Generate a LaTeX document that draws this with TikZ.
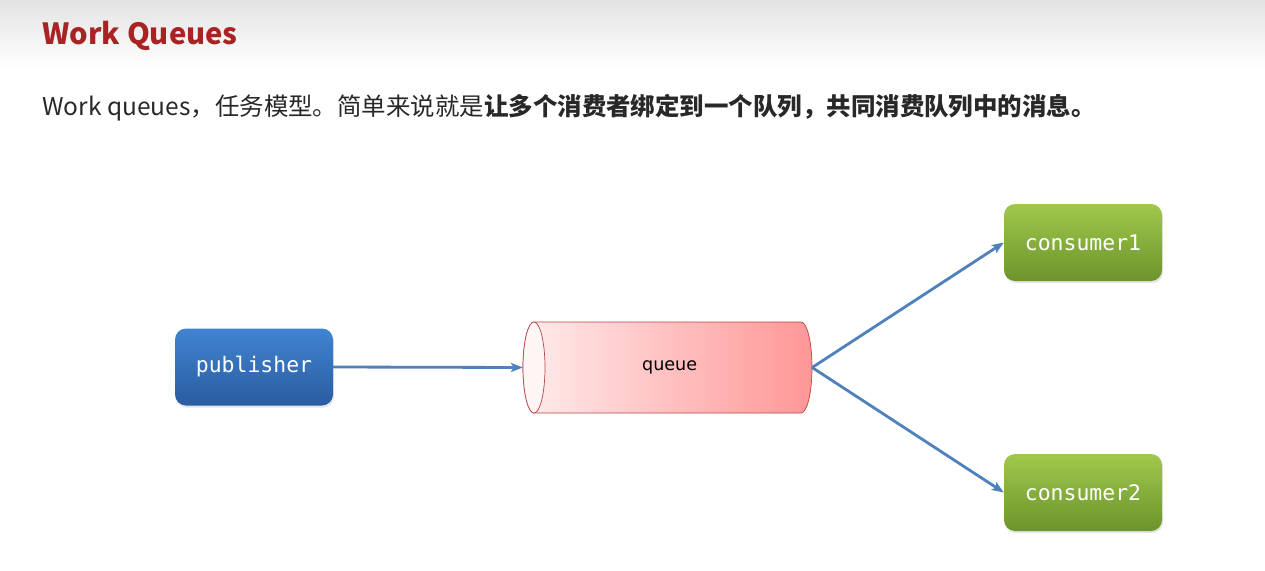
\documentclass[tikz,border=0pt]{standalone}
\usepackage{fontspec}
\setmainfont{Noto Sans CJK SC}
\newfontfamily\monofont{DejaVu Sans Mono}
\newfontfamily\labelfont{DejaVu Sans}
\usetikzlibrary{arrows.meta, shadows}
\definecolor{heading}{RGB}{168, 36, 36}
\definecolor{body}{RGB}{40, 40, 40}
\definecolor{pubtop}{RGB}{64, 132, 208}
\definecolor{pubbot}{RGB}{42, 92, 160}
\definecolor{contop}{RGB}{160, 200, 76}
\definecolor{conbot}{RGB}{108, 148, 44}
\definecolor{qleft}{RGB}{255, 236, 236}
\definecolor{qright}{RGB}{255, 150, 150}
\definecolor{qedge}{RGB}{185, 70, 70}
\definecolor{link}{RGB}{79, 129, 189}
\newcommand*{\px}{0.5mm}
\newcommand*{\bw}{158}
\newcommand*{\bh}{77}

\begin{document}
\begin{tikzpicture}[
   x=\px, y=-\px,
   pubrec/.style={rectangle, rounded corners=11*\px, top color=pubtop, bottom color=pubbot,
                  text=white, font=\monofont\fontsize{30.5}{36}\selectfont,
                  minimum width=\bw*\px, minimum height=\bh*\px,
                  drop shadow={shadow xshift=1.5pt, shadow yshift=-3pt, opacity=0.2}},
   conrec/.style={rectangle, rounded corners=11*\px, top color=contop, bottom color=conbot,
                  text=white, font=\monofont\fontsize{30.5}{36}\selectfont,
                  minimum width=\bw*\px, minimum height=\bh*\px,
                  drop shadow={shadow xshift=1.5pt, shadow yshift=-3pt, opacity=0.2}},
   queuebox/.style={rectangle, inner sep=0, font=\labelfont\fontsize{25}{30}\selectfont,
                    minimum width=289*\px, minimum height=91*\px},
   msgarrow/.style={-{Stealth[length=17pt, width=13pt, inset=4pt]}, color=link, line width=4pt}
  ]

  % Page
  \fill[white] (0, 0) rectangle (1265, 571);
  \shade[top color=black!11, bottom color=white] (0, 0) rectangle (1265, 68);
  \useasboundingbox (0, 0) rectangle (1265, 571);

  \node (title) at (40, 45) [anchor=base west, text=heading,
        font=\bfseries\fontsize{41.5}{50}\selectfont] {Work Queues};
  \node (intro) at (40, 116) [anchor=base west, text=body,
        font=\fontsize{34.8}{42}\selectfont]
        {Work queues，任务模型。简单来说就是\textbf{让多个消费者绑定到一个队列，共同消费队列中的消息。}};

  % Queue cylinder
  \shade[left color=qleft, right color=qright, draw=qedge, line width=1pt]
    (534, 322) -- (801, 322) arc[start angle=-90, end angle=90, x radius=11, y radius=45.5]
    -- (534, 413) arc[start angle=90, end angle=270, x radius=11, y radius=45.5] -- cycle;
  \draw[qedge, fill=qleft!50!white, line width=1pt] (534, 367.5) ellipse [x radius=11, y radius=45.5];

  \node (pub) at (254, 367) [pubrec] {publisher};
  \node (queue) at (667.5, 367.5) [queuebox] {\hspace*{6pt}queue};
  \node (con1) at (1083, 242.5) [conrec] {consumer1};
  \node (con2) at (1083, 492.5) [conrec] {consumer2};

  \foreach \B/\E in {pub/queue, queue/con1, queue/con2} {
    \draw[msgarrow] (\B.east) -- (\E.west);
  }

\end{tikzpicture}
\end{document}
